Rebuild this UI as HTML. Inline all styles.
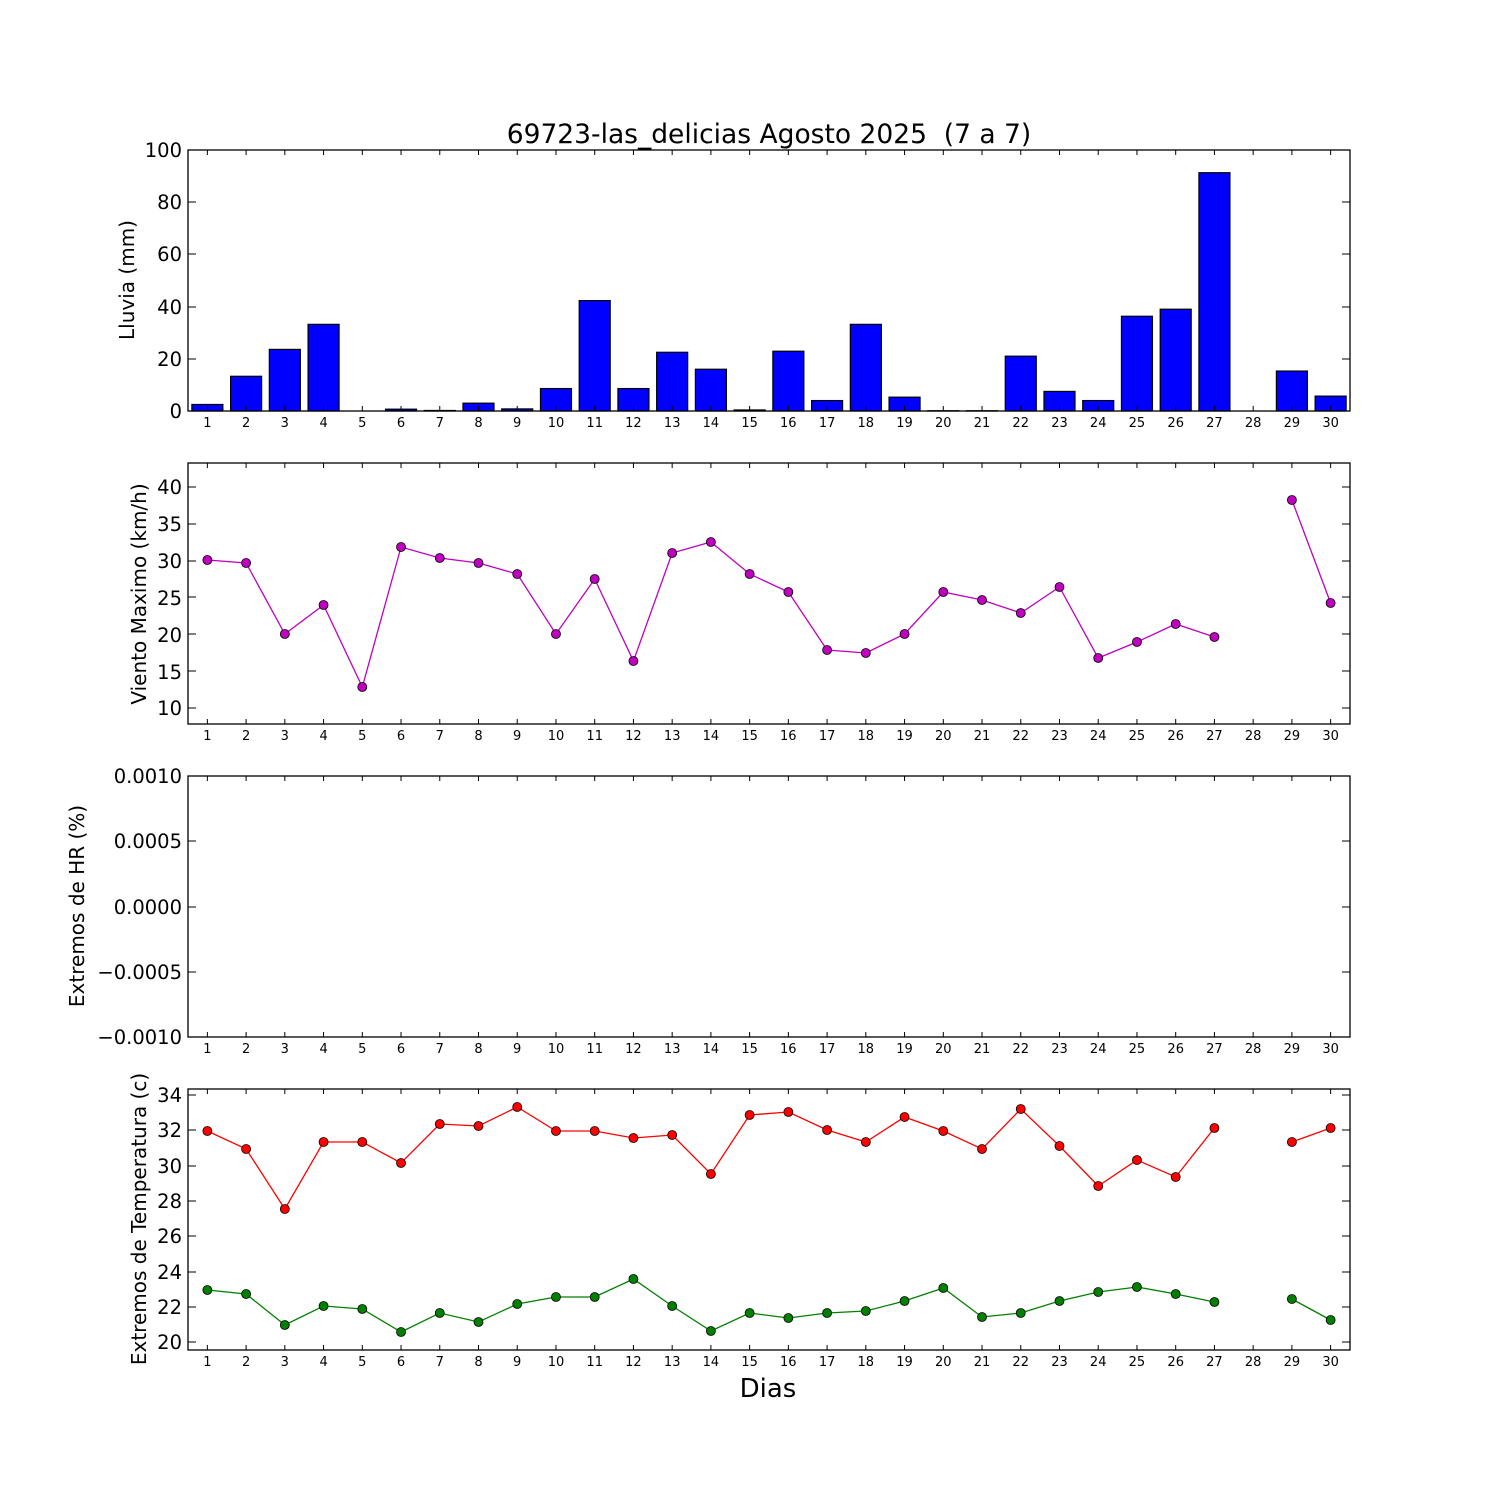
<!DOCTYPE html>
<html><head><meta charset="utf-8"><style>
body{margin:0;background:#fff}
svg{display:block}
text{font-family:"DejaVu Sans","Liberation Sans",sans-serif;fill:#000}
.xt{font-size:13px;text-anchor:middle}
.yt{font-size:19.5px;text-anchor:end}
.yl{font-size:20px;text-anchor:middle}
</style></head><body>
<svg id="s" width="1500" height="1500" xmlns="http://www.w3.org/2000/svg">
<rect width="1500" height="1500" fill="#fff"/>
<g id="geo"></g>
<text x="769" y="143" xml:space="preserve" style="font-size:26.5px;text-anchor:middle;white-space:pre">69723-las_delicias Agosto 2025  (7 a 7)</text>
<text x="768" y="1397" style="font-size:26px;text-anchor:middle">Dias</text>
<text class="yl" transform="translate(134,280) rotate(-90)">Lluvia (mm)</text>
<text class="yl" transform="translate(146,594) rotate(-90)">Viento Maximo (km/h)</text>
<text class="yl" transform="translate(84,906) rotate(-90)">Extremos de HR (%)</text>
<text class="yl" transform="translate(146,1219) rotate(-90)">Extremos de Temperatura (c)</text>
<text class="yt" x="182" y="157">100</text><text class="yt" x="182" y="209">80</text><text class="yt" x="182" y="261">60</text><text class="yt" x="182" y="314">40</text><text class="yt" x="182" y="366">20</text><text class="yt" x="182" y="418">0</text>
<text class="yt" x="182" y="494">40</text><text class="yt" x="182" y="531">35</text><text class="yt" x="182" y="568">30</text><text class="yt" x="182" y="605">25</text><text class="yt" x="182" y="642">20</text><text class="yt" x="182" y="679">15</text><text class="yt" x="182" y="715">10</text>
<text class="yt" x="182" y="783">0.0010</text><text class="yt" x="182" y="848">0.0005</text><text class="yt" x="182" y="914">0.0000</text><text class="yt" x="182" y="979">−0.0005</text><text class="yt" x="182" y="1044">−0.0010</text>
<text class="yt" x="182" y="1102">34</text><text class="yt" x="182" y="1137">32</text><text class="yt" x="182" y="1173">30</text><text class="yt" x="182" y="1208">28</text><text class="yt" x="182" y="1243">26</text><text class="yt" x="182" y="1279">24</text><text class="yt" x="182" y="1314">22</text><text class="yt" x="182" y="1349">20</text>
<g transform="translate(0,427)"><text class="xt" x="207.4">1</text><text class="xt" x="246.1">2</text><text class="xt" x="284.8">3</text><text class="xt" x="323.6">4</text><text class="xt" x="362.3">5</text><text class="xt" x="401">6</text><text class="xt" x="439.8">7</text><text class="xt" x="478.5">8</text><text class="xt" x="517.2">9</text><text class="xt" x="556">10</text><text class="xt" x="594.7">11</text><text class="xt" x="633.4">12</text><text class="xt" x="672.2">13</text><text class="xt" x="710.9">14</text><text class="xt" x="749.6">15</text><text class="xt" x="788.3">16</text><text class="xt" x="827.1">17</text><text class="xt" x="865.8">18</text><text class="xt" x="904.5">19</text><text class="xt" x="943.3">20</text><text class="xt" x="982">21</text><text class="xt" x="1020.7">22</text><text class="xt" x="1059.5">23</text><text class="xt" x="1098.2">24</text><text class="xt" x="1136.9">25</text><text class="xt" x="1175.7">26</text><text class="xt" x="1214.4">27</text><text class="xt" x="1253.1">28</text><text class="xt" x="1291.9">29</text><text class="xt" x="1330.6">30</text></g>
<g transform="translate(0,740)"><text class="xt" x="207.4">1</text><text class="xt" x="246.1">2</text><text class="xt" x="284.8">3</text><text class="xt" x="323.6">4</text><text class="xt" x="362.3">5</text><text class="xt" x="401">6</text><text class="xt" x="439.8">7</text><text class="xt" x="478.5">8</text><text class="xt" x="517.2">9</text><text class="xt" x="556">10</text><text class="xt" x="594.7">11</text><text class="xt" x="633.4">12</text><text class="xt" x="672.2">13</text><text class="xt" x="710.9">14</text><text class="xt" x="749.6">15</text><text class="xt" x="788.3">16</text><text class="xt" x="827.1">17</text><text class="xt" x="865.8">18</text><text class="xt" x="904.5">19</text><text class="xt" x="943.3">20</text><text class="xt" x="982">21</text><text class="xt" x="1020.7">22</text><text class="xt" x="1059.5">23</text><text class="xt" x="1098.2">24</text><text class="xt" x="1136.9">25</text><text class="xt" x="1175.7">26</text><text class="xt" x="1214.4">27</text><text class="xt" x="1253.1">28</text><text class="xt" x="1291.9">29</text><text class="xt" x="1330.6">30</text></g>
<g transform="translate(0,1053)"><text class="xt" x="207.4">1</text><text class="xt" x="246.1">2</text><text class="xt" x="284.8">3</text><text class="xt" x="323.6">4</text><text class="xt" x="362.3">5</text><text class="xt" x="401">6</text><text class="xt" x="439.8">7</text><text class="xt" x="478.5">8</text><text class="xt" x="517.2">9</text><text class="xt" x="556">10</text><text class="xt" x="594.7">11</text><text class="xt" x="633.4">12</text><text class="xt" x="672.2">13</text><text class="xt" x="710.9">14</text><text class="xt" x="749.6">15</text><text class="xt" x="788.3">16</text><text class="xt" x="827.1">17</text><text class="xt" x="865.8">18</text><text class="xt" x="904.5">19</text><text class="xt" x="943.3">20</text><text class="xt" x="982">21</text><text class="xt" x="1020.7">22</text><text class="xt" x="1059.5">23</text><text class="xt" x="1098.2">24</text><text class="xt" x="1136.9">25</text><text class="xt" x="1175.7">26</text><text class="xt" x="1214.4">27</text><text class="xt" x="1253.1">28</text><text class="xt" x="1291.9">29</text><text class="xt" x="1330.6">30</text></g>
<g transform="translate(0,1366)"><text class="xt" x="207.4">1</text><text class="xt" x="246.1">2</text><text class="xt" x="284.8">3</text><text class="xt" x="323.6">4</text><text class="xt" x="362.3">5</text><text class="xt" x="401">6</text><text class="xt" x="439.8">7</text><text class="xt" x="478.5">8</text><text class="xt" x="517.2">9</text><text class="xt" x="556">10</text><text class="xt" x="594.7">11</text><text class="xt" x="633.4">12</text><text class="xt" x="672.2">13</text><text class="xt" x="710.9">14</text><text class="xt" x="749.6">15</text><text class="xt" x="788.3">16</text><text class="xt" x="827.1">17</text><text class="xt" x="865.8">18</text><text class="xt" x="904.5">19</text><text class="xt" x="943.3">20</text><text class="xt" x="982">21</text><text class="xt" x="1020.7">22</text><text class="xt" x="1059.5">23</text><text class="xt" x="1098.2">24</text><text class="xt" x="1136.9">25</text><text class="xt" x="1175.7">26</text><text class="xt" x="1214.4">27</text><text class="xt" x="1253.1">28</text><text class="xt" x="1291.9">29</text><text class="xt" x="1330.6">30</text></g>
</svg>
<script>
var g=document.getElementById('geo'),h='';
function X(d){return 188+(d-0.5)*38.733;}
var rain=[2.5,13.3,23.6,33.2,0,0.7,0.2,3,0.8,8.6,42.3,8.6,22.5,16,0.4,22.9,4,33.2,5.3,0.1,0.1,21,7.5,4,36.3,39,91.3,0,15.3,5.7];
rain.forEach(function(v,i){var d=i+1,t=411-v*2.61;h+='<rect x="'+(X(d)-15.5)+'" y="'+t+'" width="31" height="'+(411-t)+'" fill="#0000ff" stroke="#000" stroke-width="1.2"/>';});
function series(ys,col){var p='',seg=[];ys.forEach(function(y,i){if(y==null){if(seg.length)p+='<polyline fill="none" stroke="'+col+'" stroke-width="1.3" points="'+seg.join(' ')+'"/>';seg=[];}else seg.push(X(i+1)+','+y);});if(seg.length)p+='<polyline fill="none" stroke="'+col+'" stroke-width="1.3" points="'+seg.join(' ')+'"/>';
ys.forEach(function(y,i){if(y!=null)p+='<circle cx="'+X(i+1)+'" cy="'+y+'" r="4.5" fill="'+col+'" stroke="#000" stroke-width="0.8"/>';});return p;}
h+=series([560,563,634,605,687,547,558,563,574,634,579,661,553,542,574,592,650,653,634,592,600,613,587,658,642,624,637,null,500,603],'#bf00bf');
h+=series([1131,1149,1209,1142,1142,1163,1124,1126,1107,1131,1131,1138,1135,1174,1115,1112,1130,1142,1117,1131,1149,1109,1146,1186,1160,1177,1128,null,1142,1128],'#ff0000');
h+=series([1290,1294,1325,1306,1309,1332,1313,1322,1304,1297,1297,1279,1306,1331,1313,1318,1313,1311,1301,1288,1317,1313,1301,1292,1287,1294,1302,null,1299,1320],'#008000');
var tops=[150,463,776,1089],yt=[[150,202,254,307,359,411],[487,524,561,597,634,671,708],[776,841,907,972,1037],[1095,1130,1166,1201,1236,1272,1307,1342]];
tops.forEach(function(t,k){var b=t+261;
for(var d=1;d<=30;d++){var x=X(d);h+='<line x1="'+x+'" y1="'+b+'" x2="'+x+'" y2="'+(b-5)+'" stroke="#000"/><line x1="'+x+'" y1="'+t+'" x2="'+x+'" y2="'+(t+5)+'" stroke="#000"/>';}
yt[k].forEach(function(y){h+='<line x1="188" y1="'+y+'" x2="196" y2="'+y+'" stroke="#000"/><line x1="1342" y1="'+y+'" x2="1350" y2="'+y+'" stroke="#000"/>';});
h+='<rect x="188" y="'+t+'" width="1162" height="261" fill="none" stroke="#000" stroke-width="1.3"/>';});
g.innerHTML=h;
</script>
</body></html>
